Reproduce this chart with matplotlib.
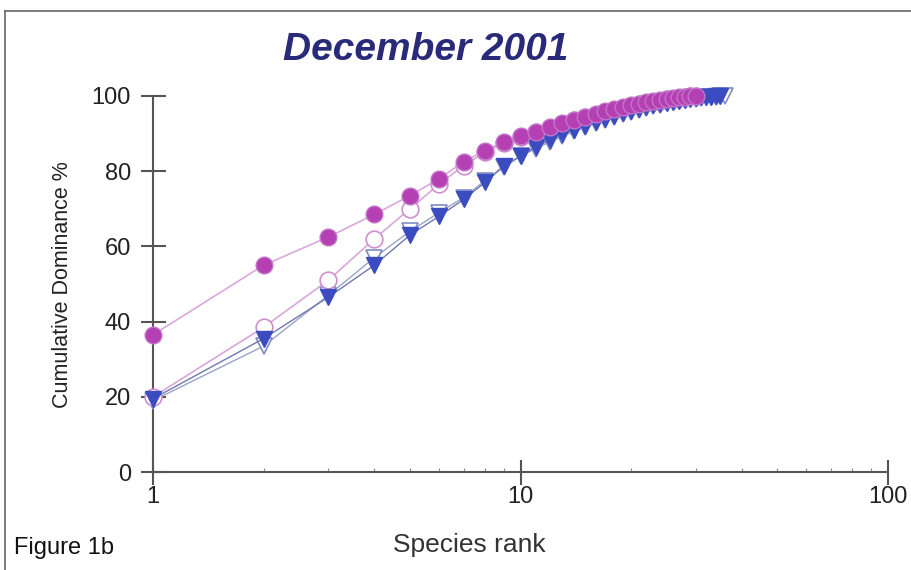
import numpy as np
import matplotlib.pyplot as plt
from matplotlib.lines import Line2D
from matplotlib.ticker import FixedLocator, NullFormatter

# species ranks and cumulative dominance (%)
rank_a = list(range(1, 31))
dom_a = [36.5, 55, 62.5, 68.5, 73.5, 78, 82.5, 85.5, 87.8, 89.3,
         90.5, 91.7, 92.8, 93.7, 94.5, 95.2, 95.9, 96.5, 97, 97.5,
         97.9, 98.3, 98.6, 98.9, 99.2, 99.4, 99.6, 99.8, 99.9, 100]

rank_b = list(range(1, 31))
dom_b = [20, 38.5, 51, 62, 70, 76.5, 81.5, 85, 87.5, 89,
         90.3, 91.5, 92.6, 93.5, 94.3, 95, 95.7, 96.3, 96.9, 97.4,
         97.8, 98.2, 98.5, 98.8, 99.1, 99.3, 99.5, 99.7, 99.9, 100]

rank_c = list(range(1, 36))
dom_c = [19.5, 35.5, 46.5, 55, 63, 68, 72.5, 77, 81.5, 84,
         86.5, 88.3, 89.8, 91, 92, 93, 93.9, 94.7, 95.4, 96,
         96.6, 97.1, 97.5, 97.9, 98.2, 98.5, 98.8, 99, 99.2, 99.4,
         99.6, 99.7, 99.8, 99.9, 100]

rank_d = list(range(1, 37))
dom_d = [19, 33.5, 47, 57, 64, 69, 73, 77.5, 81, 84,
         86, 87.8, 89.3, 90.6, 91.7, 92.7, 93.6, 94.4, 95.1, 95.8,
         96.4, 96.9, 97.3, 97.7, 98.1, 98.4, 98.7, 98.9, 99.1, 99.3,
         99.5, 99.6, 99.7, 99.8, 99.9, 100]

x_ticks = [1, 10, 100]
y_ticks = [0, 20, 40, 60, 80, 100]

fig = plt.figure(figsize=(9.12, 5.70), dpi=100)
ax = fig.add_axes([0.1678, 0.1719, 0.8059, 0.6597])

ax.plot(rank_d, dom_d, color='#9aa3c8', lw=1, marker='v', ms=11,
        mfc='white', mec='#7f8cc4', mew=1.2, zorder=3, clip_on=False)
ax.plot(rank_b, dom_b, color='#d9a6d8', lw=1.2, marker='o', ms=12,
        mfc='white', mec='#cf8fd0', mew=1.2, zorder=4, clip_on=False)
ax.plot(rank_c, dom_c, color='#6f78b0', lw=1, marker='v', ms=11,
        mfc='#3b4cc0', mec='#3b4cc0', zorder=5, clip_on=False)
ax.plot(rank_a, dom_a, color='#dba8dc', lw=1.2, marker='o', ms=12,
        mfc='#b540b3', mec='#c274c8', mew=1, zorder=6, clip_on=False)

ax.set_xscale('log')
ax.set_xlim(1, 100)
ax.set_ylim(0, 100)
ax.xaxis.set_major_locator(FixedLocator(x_ticks))
ax.xaxis.set_minor_locator(FixedLocator([2, 3, 4, 5, 6, 7, 8, 9, 20, 30, 40, 50, 60, 70, 80, 90]))
ax.xaxis.set_minor_formatter(NullFormatter())
ax.set_xticklabels([str(v) for v in x_ticks])
ax.set_yticks(y_ticks)
ax.set_yticklabels([str(v) for v in y_ticks])

for s in ['top', 'right']:
    ax.spines[s].set_visible(False)
for s in ['left', 'bottom']:
    ax.spines[s].set_color('#555555')
    ax.spines[s].set_linewidth(1.5)
ax.tick_params(axis='both', which='major', direction='inout', length=18,
               width=1.5, color='#555555', labelsize=17, labelcolor='#222222')
ax.tick_params(axis='y', pad=7)
ax.tick_params(axis='x', which='minor', direction='in', length=3, width=0.8, color='#888888')
ax.tick_params(axis='x', pad=1)
for lab in ax.get_xticklabels() + ax.get_yticklabels():
    lab.set_family('Liberation Sans')

fig.text(0.069, 0.5, 'Cumulative Dominance %', fontsize=15.5, family='Liberation Sans',
         color='#222222', rotation=90, ha='center', va='center')
fig.text(0.515, 0.043, 'Species rank', fontsize=19, family='Liberation Sans',
         color='#333333', ha='center', va='center')
fig.text(0.467, 0.912, 'December 2001', fontsize=28, family='Liberation Sans',
         weight='bold', style='italic', color='#2a2a7a', ha='center', va='center')
fig.text(0.015, 0.038, 'Figure 1b', fontsize=17, family='Liberation Sans',
         color='#111111', ha='left', va='center')

# frame around the figure
fig.add_artist(Line2D([0.006, 0.006], [0.0, 0.981], color='#666666', lw=1.2))
fig.add_artist(Line2D([0.006, 1.0], [0.981, 0.981], color='#666666', lw=1.2))

fig.savefig('out.png', dpi=100)
